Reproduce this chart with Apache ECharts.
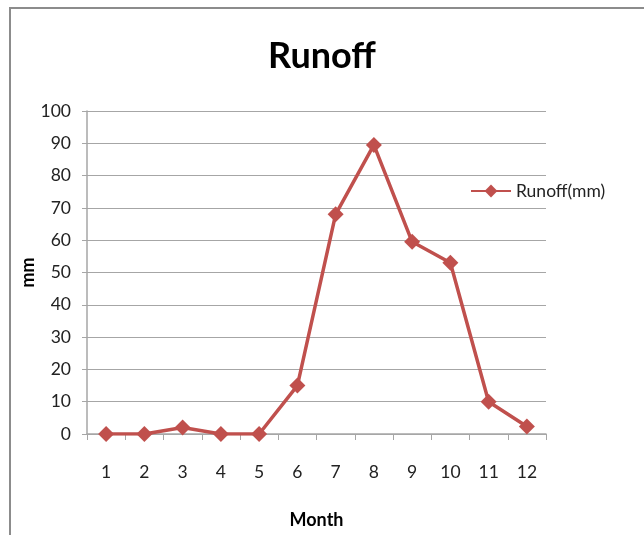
<!DOCTYPE html>
<html><head><meta charset="utf-8">
<script src="https://cdn.jsdelivr.net/npm/echarts@6/dist/echarts.min.js"></script>
<style>html,body{margin:0;padding:0;background:#fff}#c{width:644px;height:535px}</style>
</head><body><div id="c"></div>
<script>
const months = ['1','2','3','4','5','6','7','8','9','10','11','12'];
const runoff = [0, 0, 2, 0, 0, 15, 68, 89.5, 59.5, 53, 10, 2.3];
const seriesName = 'Runoff(mm)';
const titleText = 'Runoff';
const xName = 'Month';
const yName = 'mm';

const chart = echarts.init(document.getElementById('c'));
const font = 'Lato, "Open Sans", sans-serif';
chart.setOption({
  animation: false,
  graphic: [{type:'rect', shape:{x:10,y:8,width:640,height:540}, style:{fill:'none', stroke:'#8c8c8c', lineWidth:2}}],
  title: {text: titleText, left: 'center', top: 33, textStyle:{fontFamily:font, fontSize:36, fontWeight:'bold', color:'#000'}},
  legend: {data:[seriesName], left: 465, top: 177, itemWidth: 40, itemHeight: 16, itemGap: 3,
    textStyle:{fontFamily:font, fontSize:17.5, color:'#222'}},
  grid: {left: 87, right: 98, top: 111, bottom: 101, containLabel:false, outerBoundsMode:'none'},
  xAxis: {type:'category', data: months, name: xName, nameLocation:'middle', nameGap: 77, nameMoveOverlap:false,
    nameTextStyle:{fontFamily:font, fontSize:18, fontWeight:'bold', color:'#000'},
    boundaryGap: true,
    axisLine:{lineStyle:{color:'#a6a6a6', width:1.5}},
    axisTick:{show:true, inside:false, length:6, lineStyle:{color:'#a6a6a6'}},
    axisLabel:{fontFamily:font, fontSize:17.5, color:'#222', margin:29},
    splitLine:{show:false}},
  yAxis: {type:'value', min:0, max:100, interval:10, name: yName, nameLocation:'middle', nameGap: 50, nameMoveOverlap:false,
    nameTextStyle:{fontFamily:font, fontSize:18, fontWeight:'bold', color:'#000'},
    axisLine:{show:true, lineStyle:{color:'#a6a6a6', width:1.5}},
    axisTick:{show:true, length:5, lineStyle:{color:'#a6a6a6'}},
    axisLabel:{fontFamily:font, fontSize:17.5, color:'#222', margin:16},
    splitLine:{lineStyle:{color:'#a6a6a6', width:1.2}}},
  series: [{name: seriesName, type:'line', data: runoff, symbol:'diamond', symbolSize:16,
    lineStyle:{color:'#c0504d', width:3.5}, itemStyle:{color:'#c0504d'}}]
});
</script></body></html>
